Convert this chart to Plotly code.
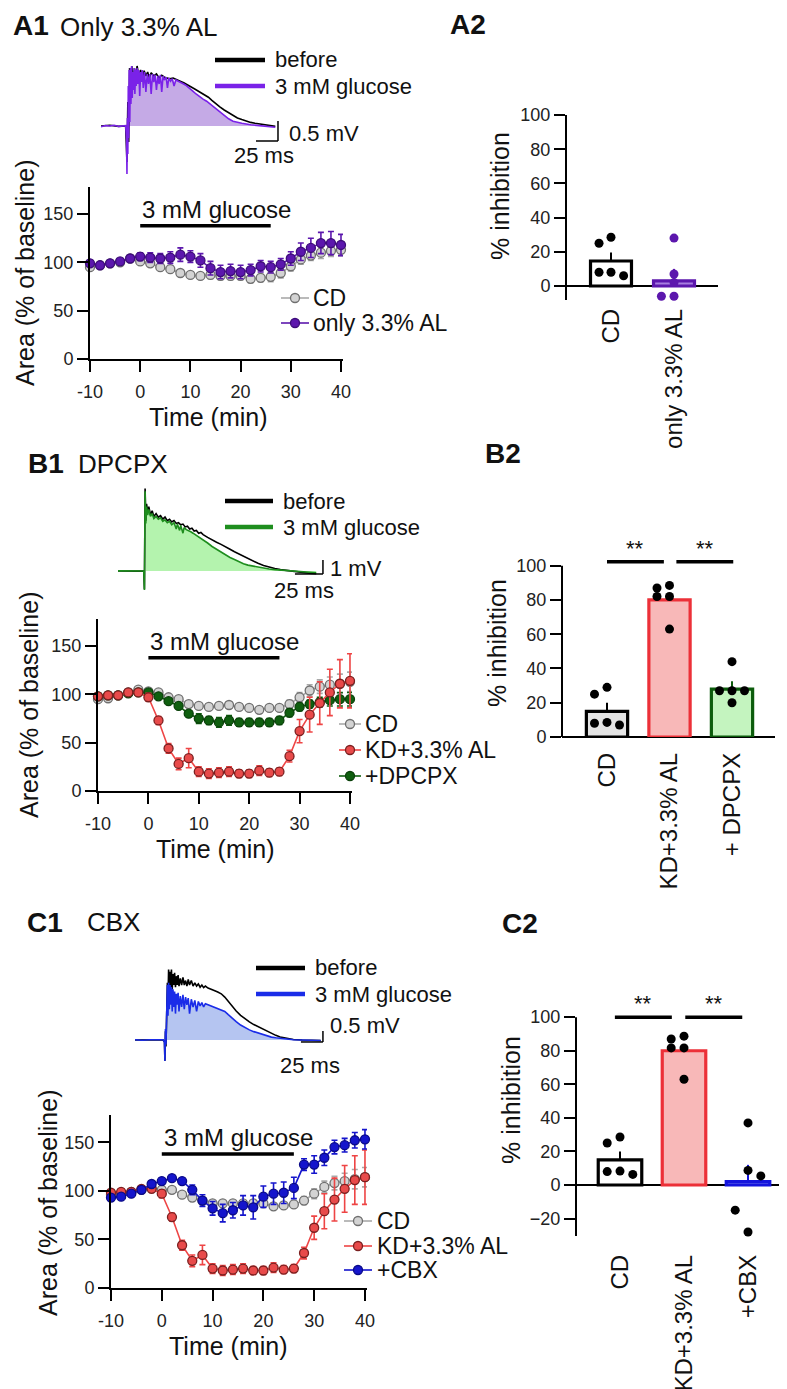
import plotly.graph_objects as go

W, H = 787, 1389
FONT = "Liberation Sans, Arial, Helvetica, sans-serif"


def fx(px):
    return px / W


def fy(py):
    return 1 - py / H


# ------------------------------------------------------------------ data
time_min = [-10, -8, -6, -4, -2, 0, 2, 4, 6, 8, 10, 12, 14, 16, 18, 20, 22, 24, 26, 28, 30, 32, 34, 36, 38, 40]
time_ticks = [-10, 0, 10, 20, 30, 40]
time_ticklabels = ["-10", "0", "10", "20", "30", "40"]
area_ticks = [0, 50, 100, 150]

# A1 time course
a1_cd = [95, 97, 99, 100, 104, 101, 99, 95, 93, 89, 87, 86, 87, 86, 86, 86, 83, 84, 85, 89, 96, 103, 107, 110, 112, 113]
a1_cd_err = [2, 2, 2, 2, 2, 2, 2, 3, 3, 3, 3, 3, 4, 4, 4, 4, 4, 4, 5, 5, 5, 5, 5, 6, 6, 6]
a1_al = [99, 97, 99, 101, 104, 106, 105, 104, 105, 108, 106, 102, 94, 90, 91, 90, 92, 96, 95, 98, 104, 111, 115, 120, 120, 118]
a1_al_err = [3, 2, 2, 2, 3, 4, 5, 5, 6, 7, 6, 7, 7, 7, 7, 7, 6, 6, 6, 6, 7, 9, 10, 11, 12, 11]

# B1 time course
b1_cd = [95, 96, 99, 102, 105, 103, 102, 97, 95, 90, 88, 87, 88, 89, 87, 86, 84, 86, 86, 90, 97, 104, 108, 110, 111, 113]
b1_cd_err = [2, 2, 2, 2, 2, 2, 2, 2, 3, 3, 3, 3, 3, 3, 3, 3, 3, 3, 3, 4, 5, 6, 7, 8, 10, 10]
kd = [98, 99, 99, 102, 102, 97, 73, 44, 28, 34, 20, 18, 19, 20, 18, 18, 21, 19, 20, 36, 62, 79, 91, 102, 111, 114]
kd_err = [2, 2, 2, 2, 2, 4, 4, 5, 6, 10, 5, 5, 5, 5, 4, 4, 5, 4, 4, 6, 12, 18, 22, 24, 25, 28]
dpcpx = [98, 99, 99, 101, 102, 102, 98, 93, 88, 80, 75, 73, 71, 73, 71, 71, 71, 71, 73, 81, 87, 90, 92, 94, 95, 95]
dpcpx_err = [1, 1, 1, 1, 2, 2, 2, 2, 2, 3, 5, 4, 5, 5, 4, 4, 4, 4, 4, 4, 4, 4, 5, 6, 7, 7]

# C1 time course
c1_cd = [96, 97, 99, 101, 103, 101, 101, 96, 93, 90, 87, 87, 87, 87, 87, 87, 84, 85, 86, 90, 97, 104, 108, 110, 112, 114]
c1_cd_err = [2, 2, 2, 2, 2, 2, 2, 2, 3, 3, 3, 3, 3, 3, 3, 3, 3, 3, 3, 4, 5, 6, 7, 8, 10, 10]
cbx = [93, 94, 97, 101, 107, 110, 113, 110, 101, 90, 82, 77, 80, 85, 83, 94, 97, 98, 103, 127, 127, 134, 145, 147, 152, 153]
cbx_err = [3, 3, 3, 3, 3, 3, 3, 3, 5, 6, 7, 9, 8, 10, 12, 11, 11, 11, 11, 6, 9, 8, 7, 7, 8, 10]

# example traces: (time ms, mV)
a1_before = [(0, 0), (10, 0.02), (20, -0.01), (28, 0), (29.5, -0.9), (30.5, 0.6), (31.5, -0.4), (32.5, 1.45),
             (34, 0.9), (35, 1.5), (36.5, 1.1), (38, 1.45), (39.5, 1.2), (41, 1.5), (43, 1.25), (45, 1.4),
             (47, 1.2), (49, 1.38), (51, 1.25), (53, 1.35), (55, 1.2), (57, 1.33), (60, 1.25), (63, 1.3),
             (66, 1.2), (69, 1.27), (72, 1.22), (75, 1.2), (78, 1.18), (82, 1.2), (86, 1.15), (90, 1.12),
             (94, 1.08), (98, 1.04), (102, 0.98), (106, 0.93), (110, 0.88), (114, 0.82), (118, 0.77),
             (122, 0.72), (126, 0.64), (130, 0.56), (135, 0.48), (140, 0.4), (145, 0.33), (150, 0.26),
             (155, 0.2), (160, 0.16), (165, 0.12), (170, 0.09), (175, 0.07), (180, 0.05), (185, 0.03),
             (190, 0.01), (198, -0.01)]
a1_glucose = [(0, -0.02), (5, 0.01), (10, 0), (15, 0.02), (20, -0.01), (25, 0), (28, 0.01), (29, -0.3),
              (29.5, -1.2), (30, 0.2), (30.5, -0.7), (31, 1.0), (31.5, -0.3), (32, 1.4), (32.7, 0.1),
              (33.4, 1.45), (34, 0.55), (34.8, 1.5), (35.5, 0.7), (36.3, 1.35), (37, 0.9), (37.8, 1.45),
              (38.5, 0.8), (39.3, 1.4), (40, 1.0), (41, 1.45), (42, 1.05), (43, 1.4), (44, 0.75), (45, 1.35),
              (46, 1.1), (47, 1.4), (48, 0.95), (49.5, 1.35), (51, 0.85), (52.5, 1.3), (54, 1.05), (55.5, 1.3),
              (57, 0.8), (58.5, 1.3), (60, 1.1), (61.5, 1.28), (63, 0.9), (64.5, 1.25), (66, 1.05), (67.5, 1.28),
              (69, 0.85), (70.5, 1.25), (72, 1.15), (74, 1.22), (75.5, 0.95), (77, 1.2), (79, 1.12), (81, 1.18),
              (83, 1.0), (85, 1.15), (88, 1.12), (91, 1.1), (94, 1.05), (97, 1.01), (100, 0.96), (104, 0.88),
              (108, 0.8), (112, 0.73), (116, 0.67), (120, 0.62), (124, 0.55), (128, 0.47), (132, 0.39),
              (136, 0.32), (140, 0.25), (145, 0.18), (150, 0.12), (155, 0.09), (160, 0.07), (165, 0.05),
              (170, 0.03), (180, 0.01), (190, -0.02), (198, -0.03)]

b1_before = [(0, 0), (8, 0.02), (16, -0.01), (23, 0), (23.6, -1.3), (24.2, 5.9), (24.8, 3.6), (25.5, 4.8),
             (26.5, 4.2), (27.5, 4.6), (29, 4.0), (30.5, 4.3), (32, 3.9), (34, 4.1), (36, 3.85), (38, 3.95),
             (40, 3.7), (42, 3.85), (44, 3.6), (46, 3.7), (48, 3.5), (50, 3.6), (52, 3.4), (54, 3.45), (56, 3.3),
             (58, 3.35), (60, 3.15), (62, 3.2), (64, 3.0), (66, 3.05), (68, 2.85), (70, 2.9), (72, 2.7),
             (74, 2.75), (76, 2.6), (80, 2.4), (84, 2.2), (88, 2.05), (92, 1.9), (96, 1.75), (100, 1.55),
             (104, 1.38), (108, 1.22), (112, 1.05), (116, 0.88), (120, 0.72), (125, 0.55), (130, 0.4),
             (135, 0.28), (140, 0.18), (145, 0.1), (150, 0.04), (155, 0), (160, -0.05), (165, -0.1),
             (170, -0.15), (177, -0.2)]
b1_glucose = [(0, 0.01), (8, -0.01), (16, 0.01), (23, 0), (23.6, -1.36), (24.2, 5.7), (24.8, 3.4), (25.5, 4.6),
              (26.5, 4.0), (27.5, 4.4), (29, 3.9), (30.5, 4.1), (32, 3.75), (34, 3.9), (36, 3.7), (38, 3.8),
              (40, 3.55), (42, 3.65), (44, 3.45), (46, 3.55), (48, 3.3), (50, 3.45), (52, 3.0), (53, 3.35),
              (55, 2.9), (56, 3.25), (58, 2.7), (59, 3.1), (61, 2.95), (63, 2.9), (65, 2.8), (67, 2.7),
              (70, 2.55), (73, 2.35), (76, 2.2), (80, 2.0), (84, 1.75), (88, 1.55), (92, 1.35), (96, 1.15),
              (100, 0.97), (104, 0.82), (108, 0.65), (112, 0.52), (116, 0.42), (120, 0.35), (125, 0.27),
              (130, 0.2), (135, 0.14), (140, 0.1), (150, 0.03), (160, -0.04), (170, -0.09), (177, -0.12)]

c1_before = [(0, 0), (8, 0.01), (16, -0.01), (24, 0.01), (32, 0), (33.5, -0.1), (34, -0.95), (34.6, 0.4),
             (35.2, -0.3), (36, 1.5), (36.8, 2.6), (37.5, 1.8), (38.2, 3.2), (39, 2.3), (39.8, 3.1), (40.6, 2.4),
             (41.4, 3.2), (42.3, 2.3), (43.2, 3.0), (44.1, 2.5), (45, 3.05), (46, 2.4), (47, 2.9), (48, 2.5),
             (49, 2.95), (50, 2.45), (51.5, 2.8), (53, 2.5), (54.5, 2.85), (56, 2.5), (57.5, 2.7), (59, 2.45),
             (60.5, 2.75), (62, 2.5), (64, 2.7), (66, 2.45), (68, 2.6), (70, 2.45), (72, 2.55), (74, 2.4),
             (76, 2.5), (78, 2.38), (80, 2.45), (83, 2.36), (86, 2.3), (90, 2.25), (94, 2.18), (98, 2.1),
             (102, 1.95), (106, 1.75), (110, 1.55), (115, 1.32), (120, 1.12), (125, 0.95), (130, 0.82),
             (135, 0.7), (140, 0.6), (145, 0.48), (150, 0.38), (155, 0.29), (160, 0.21), (165, 0.14),
             (170, 0.09), (175, 0.05), (180, 0.02), (190, 0), (200, -0.02), (211, -0.02)]
c1_glucose = [(0, 0.01), (8, -0.01), (16, 0.01), (24, 0), (32, 0.01), (33.5, -0.1), (34, -0.95), (34.6, 0.5),
              (35.2, -0.2), (36, 1.2), (36.8, 2.5), (37.5, 1.1), (38.2, 2.6), (39, 1.4), (39.8, 2.5), (40.6, 1.6),
              (41.4, 2.4), (42.3, 1.3), (43.2, 2.3), (44.1, 1.5), (45, 2.2), (46, 1.2), (47, 2.1), (48, 1.6),
              (49, 2.15), (50, 1.3), (51.5, 2.0), (53, 1.5), (54.5, 2.05), (56, 1.4), (57.5, 1.95), (59, 1.6),
              (60.5, 1.9), (62, 1.2), (64, 1.85), (66, 1.5), (68, 1.8), (70, 1.3), (72, 1.75), (74, 1.55),
              (76, 1.7), (78, 1.5), (80, 1.65), (83, 1.6), (86, 1.55), (90, 1.5), (94, 1.45), (98, 1.38),
              (102, 1.3), (106, 1.15), (110, 1.0), (115, 0.84), (120, 0.68), (125, 0.56), (130, 0.46),
              (135, 0.38), (140, 0.31), (145, 0.24), (150, 0.18), (155, 0.13), (160, 0.1), (165, 0.07),
              (170, 0.04), (175, 0.02), (180, 0.01), (190, 0), (200, -0.01), (211, -0.02)]

# bar charts: % inhibition
a2_groups = ["CD", "only 3.3% AL"]
a2_means = [14.6, 3]
a2_sem = [5, 7]
a2_points = [[25, 28.5, 8, 8, 6], [28, 7, 2, -6, -6]]
a2_jitter = [[-0.19, 0, -0.19, 0, 0.2], [0, 0, 0, -0.2, 0]]

b2_groups = ["CD", "KD+3.3% AL", "+ DPCPX"]
b2_means = [15, 80, 28]
b2_sem = [5, 2.5, 4.5]
b2_points = [[25, 29, 8, 8.5, 7], [87, 88.5, 82, 82, 63], [44, 27, 27, 27, 20]]
b2_jitter = [[-0.2, 0, -0.2, 0, 0.2], [-0.2, 0, -0.2, 0, 0], [0, -0.2, 0, 0.2, 0]]

c2_groups = ["CD", "KD+3.3% AL", "+CBX"]
c2_means = [15, 80, 2]
c2_sem = [5, 2.5, 10]
c2_points = [[25, 28.6, 8, 8.3, 6.3], [87, 88.7, 81.7, 81.7, 63], [37, 8.7, 5.4, -15, -28]]
c2_jitter = [[-0.2, 0, -0.2, 0, 0.2], [-0.2, 0, -0.2, 0, 0], [0, 0, 0.2, -0.2, 0]]

inhib_ticks_a = [0, 20, 40, 60, 80, 100]
inhib_ticks_c = [-20, 0, 20, 40, 60, 80, 100]

glucose_window = [0, 26]  # min

# ------------------------------------------------------------------ styles
GRAY = dict(line="#a9a9a9", fill="#d3d3d3", edge="#6f6f6f")
PURPLE = dict(line="#5c17ad", fill="#5c17ad", edge="#3d0c7a")
RED = dict(line="#ee4545", fill="#e84a4a", edge="#7a1f1f")
GREEN = dict(line="#0f5f0f", fill="#0f5f0f", edge="#0a400a")
BLUE = dict(line="#1515cc", fill="#1515cc", edge="#0a0a88")

fig = go.Figure()
layout = dict(template="none", width=W, height=H, margin=dict(l=0, r=0, t=0, b=0, pad=0),
              paper_bgcolor="white", plot_bgcolor="rgba(0,0,0,0)", showlegend=False,
              font=dict(family=FONT, color="#111"))
shapes = []
annotations = []


def ann(text, xpx, ypx, size, xanchor="center", bold=False, angle=0, color="#111"):
    annotations.append(dict(text=f"<b>{text}</b>" if bold else text, x=fx(xpx), y=fy(ypx), xref="paper",
                            yref="paper", xanchor=xanchor, yanchor="middle", showarrow=False, textangle=angle,
                            font=dict(size=size, family=FONT, color=color)))


# ---------------- example trace panels
def trace_axes(n, xpx, ypx, xr, yr):
    layout[f"xaxis{n}"] = dict(domain=[fx(xpx[0]), fx(xpx[1])], range=xr, anchor=f"y{n}", visible=False,
                               fixedrange=True, automargin=False)
    layout[f"yaxis{n}"] = dict(domain=[fy(ypx[1]), fy(ypx[0])], range=yr, anchor=f"x{n}", visible=False,
                               fixedrange=True, automargin=False)


def trace_panel(n, before, glucose, color, fillcolor, fill_from, scale_t, scale_v, mv_text, lab_mv, lab_ms):
    xa, ya = f"x{n}", f"y{n}"
    sub = [p for p in glucose if p[0] >= fill_from]
    fig.add_trace(go.Scatter(x=[p[0] for p in sub], y=[p[1] for p in sub], mode="lines", fill="tozeroy",
                             fillcolor=fillcolor, line=dict(width=0, color=fillcolor), xaxis=xa, yaxis=ya,
                             hoverinfo="skip"))
    fig.add_trace(go.Scatter(x=[p[0] for p in before], y=[p[1] for p in before], mode="lines",
                             line=dict(color="black", width=1.6), xaxis=xa, yaxis=ya, name="before"))
    fig.add_trace(go.Scatter(x=[p[0] for p in glucose], y=[p[1] for p in glucose], mode="lines",
                             line=dict(color=color, width=1.6), xaxis=xa, yaxis=ya, name="3 mM glucose"))
    # scale bars
    t1, v0 = scale_t
    shapes.append(dict(type="line", xref=xa, yref=ya, x0=t1, x1=t1, y0=v0, y1=v0 + scale_v,
                       line=dict(color="black", width=1.5)))
    shapes.append(dict(type="line", xref=xa, yref=ya, x0=t1 - 25, x1=t1, y0=v0, y1=v0,
                       line=dict(color="black", width=1.5)))
    annotations.append(dict(text=mv_text, x=lab_mv[0], y=lab_mv[1], xref=xa, yref=ya, xanchor="left",
                            yanchor="middle", showarrow=False, font=dict(size=22, family=FONT, color="#111")))
    annotations.append(dict(text="25 ms", x=lab_ms[0], y=lab_ms[1], xref=xa, yref=ya, xanchor="center",
                            yanchor="middle", showarrow=False, font=dict(size=22, family=FONT, color="#111")))


def trace_legend(x0, x1, ys, color):
    for y, c, t in zip(ys, ["black", color], ["before", "3 mM glucose"]):
        shapes.append(dict(type="line", xref="paper", yref="paper", x0=fx(x0), x1=fx(x1), y0=fy(y), y1=fy(y),
                           line=dict(color=c, width=4.5)))
        ann(t, x1 + 8, y, 22, xanchor="left")


# A1 trace: 0.88 px/ms, 40 px/mV, baseline at y=118
trace_axes(1, (93, 300), (45, 175), [0, 235.2], [-1.425, 1.825])
trace_panel(1, a1_before, a1_glucose, "#7a22e8", "rgba(150,100,210,0.55)", 31.8, (201.1, -0.375), 0.5,
            "0.5 mV", (211.4, -0.2), (185, -0.75))
trace_legend(207, 257, [52, 78], "#7a22e8")

# B1 trace: 1.12 px/ms, 14 px/mV, baseline at y=563
trace_axes(4, (110, 335), (470, 595), [0, 200.9], [-2.286, 6.643])
trace_panel(4, b1_before, b1_glucose, "#1e8e1e", "rgba(130,235,120,0.6)", 24.6, (183, -0.214), 1.0,
            "1 mV", (187.5, 0.21), (166, -1.36))
trace_legend(217, 265, [493, 519], "#1e8e1e")

# C1 trace: 0.88 px/ms, 22 px/mV, baseline at y=1032
trace_axes(7, (127, 335), (950, 1062), [0, 236.4], [-1.364, 3.727])
trace_panel(7, c1_before, c1_glucose, "#1a2ce8", "rgba(120,150,230,0.55)", 35.0, (213.6, -0.09), 0.5,
            "0.5 mV", (219.3, 0.64), (198.9, -1.14))
trace_legend(248, 297, [960, 986], "#1a2ce8")


# ---------------- time course panels
def tc_axes(n, xpx, ypx):
    common = dict(showline=True, linecolor="black", linewidth=2, ticks="outside", ticklen=11, tickwidth=2,
                  tickcolor="black", showgrid=False, zeroline=False, fixedrange=True, automargin=False,
                  tickfont=dict(size=18, family=FONT, color="#222"))
    layout[f"xaxis{n}"] = dict(domain=[fx(xpx[0]), fx(xpx[1])], range=[-10, 40.4], anchor=f"y{n}",
                               tickvals=time_ticks, ticktext=time_ticklabels, ticklabelstandoff=4, **common)
    layout[f"yaxis{n}"] = dict(domain=[fy(ypx[1]), fy(ypx[0])], range=[0, 178], anchor=f"x{n}",
                               tickvals=area_ticks, **common)


def tc_series(n, y, err, st):
    fig.add_trace(go.Scatter(x=time_min, y=y, mode="lines+markers", xaxis=f"x{n}", yaxis=f"y{n}",
                             line=dict(color=st["line"], width=1.6),
                             marker=dict(size=9, color=st["fill"], line=dict(color=st["edge"], width=1.3)),
                             error_y=dict(type="data", array=err, color=st["line"], thickness=1.6, width=3),
                             cliponaxis=False))


def glucose_bar(n):
    shapes.append(dict(type="line", xref=f"x{n}", yref=f"y{n}", x0=glucose_window[0], x1=glucose_window[1],
                       y0=138, y1=138, line=dict(color="black", width=3.5)))
    annotations.append(dict(text="3 mM glucose", x=glucose_window[0], y=155, xref=f"x{n}", yref=f"y{n}",
                            xanchor="left", yanchor="middle", showarrow=False,
                            font=dict(size=24, family=FONT, color="#111")))


def tc_legend(xa, xb, xt, ys, names, styles):
    for y, nm, st in zip(ys, names, styles):
        shapes.append(dict(type="line", xref="paper", yref="paper", x0=fx(xa), x1=fx(xb), y0=fy(y), y1=fy(y),
                           line=dict(color=st["line"], width=1.6)))
        cx = (xa + xb) / 2
        shapes.append(dict(type="circle", xref="paper", yref="paper", x0=fx(cx - 4.5), x1=fx(cx + 4.5),
                           y0=fy(y + 4.5), y1=fy(y - 4.5), fillcolor=st["fill"],
                           line=dict(color=st["edge"], width=1.3)))
        ann(nm, xt, y, 23, xanchor="left")


# A1
tc_axes(2, (82, 335), (179, 351))
tc_series(2, a1_cd, a1_cd_err, GRAY)
tc_series(2, a1_al, a1_al_err, PURPLE)
glucose_bar(2)
tc_legend(273, 301, 303, [290, 315], ["CD", "only 3.3% AL"], [GRAY, PURPLE])
ann("Area (% of baseline)", 17, 265, 25, angle=-90)
ann("Time (min)", 200, 409, 25)

# B1
tc_axes(5, (90, 344), (611, 783))
tc_series(5, b1_cd, b1_cd_err, GRAY)
tc_series(5, dpcpx, dpcpx_err, GREEN)
tc_series(5, kd, kd_err, RED)
glucose_bar(5)
tc_legend(331, 353, 355, [716, 742, 768], ["CD", "KD+3.3% AL", "+DPCPX"], [GRAY, RED, GREEN])
ann("Area (% of baseline)", 21, 697, 25, angle=-90)
ann("Time (min)", 207, 841, 25)

# C1
tc_axes(8, (103, 359), (1107, 1280))
tc_series(8, c1_cd, c1_cd_err, GRAY)
tc_series(8, kd, kd_err, RED)
tc_series(8, cbx, cbx_err, BLUE)
glucose_bar(8)
tc_legend(336, 364, 367, [1213, 1238, 1262], ["CD", "KD+3.3% AL", "+CBX"], [GRAY, RED, BLUE])
ann("Area (% of baseline)", 40, 1195, 25, angle=-90)
ann("Time (min)", 220, 1338, 25)


# ---------------- bar panels
def bar_axes(n, xpx, xr, ypx, yr, labels, ticks, standoff):
    layout[f"xaxis{n}"] = dict(domain=[fx(xpx[0]), fx(xpx[1])], range=xr, anchor=f"y{n}", showline=False,
                               ticks="", tickvals=list(range(len(labels))), ticktext=labels, tickangle=-90,
                               ticklabelstandoff=standoff, showgrid=False, zeroline=False, fixedrange=True,
                               automargin=False, tickfont=dict(size=24, family=FONT, color="#111"))
    layout[f"yaxis{n}"] = dict(domain=[fy(ypx[1]), fy(ypx[0])], range=yr, anchor=f"x{n}", showline=False,
                               ticks="outside", ticklen=11, tickwidth=2, tickcolor="black", tickvals=ticks,
                               showgrid=False, zeroline=True, zerolinecolor="black", zerolinewidth=2,
                               fixedrange=True, automargin=False, tickfont=dict(size=18, family=FONT, color="#222"))
    shapes.append(dict(type="line", xref=f"x{n} domain", yref=f"y{n}", x0=0, x1=0, y0=yr[0], y1=100,
                       line=dict(color="black", width=2)))


def bars(n, means, sem, points, jitter, fills, edges, errc, dotc, width):
    for i in range(len(means)):
        fig.add_trace(go.Bar(x=[i], y=[means[i]], width=width, xaxis=f"x{n}", yaxis=f"y{n}",
                             marker=dict(color=fills[i], line=dict(color=edges[i], width=3.2)),
                             error_y=dict(type="data", array=[sem[i]], arrayminus=[0], symmetric=False,
                                          color=errc[i], thickness=2, width=0)))
    for i in range(len(means)):
        fig.add_trace(go.Scatter(x=[i + j for j in jitter[i]], y=points[i], mode="markers", xaxis=f"x{n}",
                                 yaxis=f"y{n}", marker=dict(size=9, color=dotc[i]), cliponaxis=False))


def sig(n, x0, x1, y):
    shapes.append(dict(type="line", xref=f"x{n}", yref=f"y{n}", x0=x0, x1=x1, y0=y, y1=y,
                       line=dict(color="black", width=3.5)))
    annotations.append(dict(text="**", x=(x0 + x1) / 2, y=y + 8, xref=f"x{n}", yref=f"y{n}", xanchor="center",
                            yanchor="middle", showarrow=False, font=dict(size=22, family=FONT, color="#111")))


# A2
bar_axes(3, (558, 710), [-0.714, 1.698], (107, 292), [-8.2, 100], a2_groups, inhib_ticks_a, 3)
bars(3, a2_means, a2_sem, a2_points, a2_jitter, ["white", "#a77ee0"], ["black", "#5c17ad"],
     ["black", "#5c17ad"], ["black", "#5c17ad"], 0.65)
ann("% inhibition", 492, 188, 25, angle=-90)

# B2
bar_axes(6, (554, 767), [-0.72, 2.688], (532, 729), [0, 115], b2_groups, inhib_ticks_a, 10)
bars(6, b2_means, b2_sem, b2_points, b2_jitter, ["#e4e4e4", "#f8b8b8", "#c4f4bf"],
     ["black", "#ec3038", "#0c5c0c"], ["black", "#ec3038", "#0c5c0c"], ["black", "black", "black"], 0.66)
sig(6, 0, 0.91, 102.3)
sig(6, 1.11, 2.02, 102.3)
ann("% inhibition", 489, 635, 25, angle=-90)

# C2
bar_axes(9, (568, 785), [-0.6875, 2.703], (984, 1228), [-30.4, 115], c2_groups, inhib_ticks_c, 13)
bars(9, c2_means, c2_sem, c2_points, c2_jitter, ["white", "#f8b8b8", "#b9c6f4"],
     ["black", "#ec3038", "#1515dd"], ["black", "#ec3038", "#1515dd"], ["black", "black", "black"], 0.68)
sig(9, -0.08, 0.81, 100)
sig(9, 1.02, 1.91, 100)
ann("% inhibition", 503, 1092, 25, angle=-90)

# ---------------- panel labels
ann("A1", 3, 18, 28, xanchor="left", bold=True)
ann("Only 3.3% AL", 50, 19, 26, xanchor="left")
ann("A2", 440, 17, 28, xanchor="left", bold=True)
ann("B1", 18, 456, 28, xanchor="left", bold=True)
ann("DPCPX", 68, 456, 26, xanchor="left")
ann("B2", 475, 445, 28, xanchor="left", bold=True)
ann("C1", 17, 914, 28, xanchor="left", bold=True)
ann("CBX", 77, 914, 26, xanchor="left")
ann("C2", 492, 915, 28, xanchor="left", bold=True)

layout["shapes"] = shapes
layout["annotations"] = annotations
fig.update_layout(**layout)
fig.write_html("out.html")
